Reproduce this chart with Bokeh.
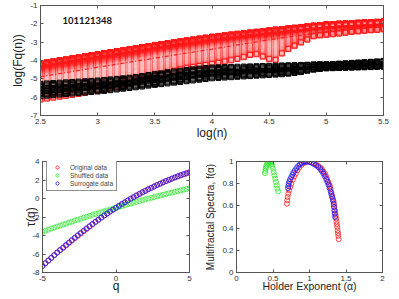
from bokeh.plotting import figure
from bokeh.layouts import column, row
from bokeh.models import (Range1d, FixedTicker, Label, LinearAxis, Legend, LegendItem,
                          CustomJSTickFormatter, ColumnDataSource)
from bokeh.embed import file_html
from bokeh.resources import INLINE

# ---------------- data: top panel (log Fq(n) vs log n) ----------------
log_n = [2.5, 2.556, 2.611, 2.667, 2.722, 2.778, 2.833, 2.889, 2.944,
         3.0, 3.056, 3.111, 3.167, 3.222, 3.278, 3.333, 3.389, 3.444,
         3.5, 3.556, 3.611, 3.667, 3.722, 3.778, 3.833, 3.889, 3.944,
         4.0, 4.056, 4.111, 4.167, 4.222, 4.278, 4.333, 4.389, 4.444,
         4.5, 4.556, 4.611, 4.667, 4.722, 4.778, 4.833, 4.889, 4.944,
         5.0, 5.056, 5.111, 5.167, 5.222, 5.278, 5.333, 5.389, 5.444, 5.5]
# original data, q = +5 (top) and q = -5 (bottom)
red_top = [-4.15, -4.09, -4.04, -3.98, -3.93, -3.87, -3.82, -3.76, -3.71, -3.65,
           -3.59, -3.54, -3.48, -3.43, -3.37, -3.32, -3.26, -3.21, -3.15,
           -3.10, -3.05, -3.00, -2.95, -2.90, -2.85, -2.80, -2.75, -2.70,
           -2.66, -2.62, -2.58, -2.54, -2.51, -2.47, -2.43, -2.39, -2.35,
           -2.31, -2.28, -2.24, -2.21, -2.17, -2.14, -2.10, -2.07, -2.03,
           -2.01, -1.99, -1.98, -1.96, -1.94, -1.92, -1.91, -1.89, -1.87]
red_bottom = [-6.13, -6.08, -6.03, -5.98, -5.93, -5.88, -5.83, -5.77, -5.71, -5.65,
              -5.57, -5.49, -5.42, -5.34, -5.25, -5.15, -5.05, -4.95, -4.85,
              -4.76, -4.67, -4.58, -4.49, -4.42, -4.36, -4.30, -4.25, -4.20,
              -4.13, -4.06, -3.99, -3.92, -3.82, -3.70, -3.66, -3.79, -3.93,
              -3.98, -3.62, -3.38, -3.20, -3.02, -2.86, -2.68, -2.63, -2.60,
              -2.57, -2.53, -2.49, -2.44, -2.41, -2.38, -2.35, -2.33, -2.30]
# shuffled data band
black_top = [-5.27, -5.25, -5.23, -5.21, -5.19, -5.17, -5.15, -5.13, -5.11, -5.09,
             -5.06, -5.03, -5.00, -4.97, -4.94, -4.90, -4.85, -4.79, -4.73,
             -4.70, -4.64, -4.60, -4.56, -4.52, -4.48, -4.44, -4.41, -4.38,
             -4.37, -4.36, -4.35, -4.34, -4.33, -4.32, -4.31, -4.30, -4.29,
             -4.28, -4.27, -4.26, -4.25, -4.24, -4.23, -4.21, -4.20, -4.20,
             -4.19, -4.17, -4.15, -4.13, -4.11, -4.09, -4.07, -4.05, -4.02]
black_bottom = [-5.95, -5.92, -5.89, -5.86, -5.83, -5.80, -5.78, -5.75, -5.72, -5.69,
                -5.66, -5.62, -5.58, -5.54, -5.50, -5.46, -5.42, -5.37, -5.33,
                -5.29, -5.25, -5.21, -5.17, -5.13, -5.09, -5.05, -5.01, -4.97,
                -4.95, -4.93, -4.91, -4.89, -4.87, -4.85, -4.83, -4.81, -4.79,
                -4.77, -4.75, -4.72, -4.68, -4.63, -4.56, -4.50, -4.46, -4.43,
                -4.42, -4.41, -4.40, -4.39, -4.38, -4.37, -4.36, -4.35, -4.34]
q_red = [-5, -4.75, -4.5, -4.25, -4, -3.75, -3.5, -3.25, -3, -2.75, -2.5, -2.25, -2,
         -1.75, -1.5, -1.25, -1, -0.75, -0.5, -0.25, 0, 0.25, 0.5, 0.75, 1, 1.25,
         1.5, 1.75, 2, 2.25, 2.5, 2.75, 3, 3.25, 3.5, 3.75, 4, 4.25, 4.5, 4.75, 5]
red_weight = [0.0, 0.02, 0.045, 0.07, 0.095, 0.12, 0.15, 0.18, 0.21, 0.245, 0.28,
              0.315, 0.35, 0.39, 0.43, 0.47, 0.51, 0.55, 0.59, 0.63, 0.665, 0.70,
              0.73, 0.76, 0.785, 0.81, 0.83, 0.85, 0.87, 0.885, 0.90, 0.915, 0.93,
              0.942, 0.954, 0.965, 0.975, 0.983, 0.99, 0.995, 1.0]
q_black = [-5, -4, -3, -2, -1, 0, 1, 2, 3, 4, 5]
black_weight = [0.0, 0.08, 0.16, 0.26, 0.38, 0.5, 0.62, 0.74, 0.84, 0.92, 1.0]
fit_log_n = [2.5, 3.0, 3.5, 4.0, 4.5, 5.0, 5.5]
fit_log_F = [-4.89, -4.37, -3.87, -3.38, -2.87, -2.42, -2.05]
top_x_ticks = [2.5, 3, 3.5, 4, 4.5, 5, 5.5]
top_y_ticks = [-7, -6, -5, -4, -3, -2, -1]

# ---------------- data: tau(q) ----------------
q_tau = [-5.0, -4.8, -4.6, -4.4, -4.2, -4.0, -3.8, -3.6, -3.4, -3.2,
         -3.0, -2.8, -2.6, -2.4, -2.2, -2.0, -1.8, -1.6, -1.4, -1.2,
         -1.0, -0.8, -0.6, -0.4, -0.2, 0.0, 0.2, 0.4, 0.6, 0.8,
         1.0, 1.2, 1.4, 1.6, 1.8, 2.0, 2.2, 2.4, 2.6, 2.8,
         3.0, 3.2, 3.4, 3.6, 3.8, 4.0, 4.2, 4.4, 4.6, 4.8, 5.0]
tau_original = [-7.28, -6.99, -6.70, -6.41, -6.12, -5.84, -5.58, -5.36, -5.09, -4.82,
                -4.56, -4.30, -4.04, -3.79, -3.54, -3.30, -3.05, -2.80, -2.54, -2.30,
                -2.06, -1.84, -1.63, -1.41, -1.21, -1.00, -0.80, -0.60, -0.41, -0.22,
                -0.03, 0.15, 0.33, 0.50, 0.67, 0.83, 1.00, 1.15, 1.31, 1.46,
                1.60, 1.74, 1.88, 2.01, 2.14, 2.26, 2.38, 2.49, 2.60, 2.70, 2.80]
tau_shuffled = [-3.60, -3.49, -3.37, -3.26, -3.15, -3.04, -2.93, -2.82, -2.71, -2.61,
                -2.50, -2.39, -2.29, -2.19, -2.08, -1.98, -1.88, -1.78, -1.68, -1.58,
                -1.48, -1.38, -1.29, -1.19, -1.09, -1.00, -0.91, -0.81, -0.72, -0.63,
                -0.54, -0.45, -0.36, -0.27, -0.19, -0.10, -0.01, 0.07, 0.15, 0.24,
                0.32, 0.40, 0.48, 0.56, 0.64, 0.72, 0.80, 0.87, 0.95, 1.03, 1.10]
tau_surrogate = [-7.30, -7.00, -6.71, -6.42, -6.13, -5.84, -5.57, -5.29, -5.02, -4.75,
                 -4.49, -4.23, -3.97, -3.72, -3.47, -3.23, -2.99, -2.75, -2.52, -2.29,
                 -2.06, -1.84, -1.63, -1.41, -1.21, -1.00, -0.80, -0.60, -0.41, -0.22,
                 -0.03, 0.15, 0.33, 0.50, 0.67, 0.83, 1.00, 1.15, 1.31, 1.46,
                 1.60, 1.75, 1.89, 2.02, 2.15, 2.28, 2.40, 2.52, 2.63, 2.74, 2.85]
tau_x_ticks = [-5, 0, 5]
tau_y_ticks = [-8, -6, -4, -2, 0, 2, 4]
legend_labels = ["Original data", "Shuffled data", "Surrogate data"]

# ---------------- data: multifractal spectra ----------------
alpha_original = [0.69, 0.695, 0.70, 0.71, 0.72, 0.735, 0.75, 0.77, 0.79, 0.81, 0.835, 0.86, 0.89, 0.92, 0.945,
                  0.97,
                  1.0, 1.03, 1.06, 1.09, 1.12, 1.15, 1.17, 1.19, 1.21, 1.225, 1.24, 1.255, 1.27, 1.28, 1.29,
                  1.30, 1.31, 1.32, 1.33, 1.335, 1.34, 1.35, 1.355, 1.36, 1.365, 1.37, 1.375, 1.38, 1.385,
                  1.39, 1.395, 1.40]
f_original = [0.62, 0.65, 0.68, 0.71, 0.74, 0.77, 0.80, 0.835, 0.865, 0.89, 0.92, 0.945, 0.97, 0.985, 0.995,
              1.0,
              0.998, 0.993, 0.985, 0.975, 0.96, 0.945, 0.93, 0.91, 0.89, 0.87, 0.845, 0.82, 0.795, 0.775, 0.75,
              0.72, 0.69, 0.665, 0.64, 0.615, 0.59, 0.56, 0.535, 0.51, 0.485, 0.46, 0.435, 0.41, 0.38,
              0.355, 0.33, 0.30]
alpha_shuffled = [0.39, 0.395, 0.40, 0.405, 0.41, 0.42, 0.43, 0.44, 0.45, 0.46, 0.47,
                  0.48, 0.49, 0.50, 0.51, 0.52, 0.53, 0.54, 0.55, 0.56, 0.57]
f_shuffled = [0.895, 0.915, 0.935, 0.95, 0.965, 0.98, 0.99, 0.997, 1.0, 0.998, 0.99,
              0.978, 0.96, 0.935, 0.905, 0.875, 0.845, 0.815, 0.785, 0.755, 0.73]
alpha_surrogate = [0.705, 0.71, 0.715, 0.725, 0.735, 0.75, 0.765, 0.78, 0.80, 0.82, 0.845, 0.87, 0.895, 0.92,
                   0.945,
                   0.97, 1.0, 1.03, 1.06, 1.09, 1.12, 1.15, 1.17, 1.19, 1.21, 1.23, 1.245, 1.26, 1.275,
                   1.29, 1.30, 1.31, 1.32, 1.33, 1.335, 1.34, 1.345, 1.35]
f_surrogate = [0.76, 0.78, 0.80, 0.82, 0.84, 0.86, 0.88, 0.90, 0.92, 0.94, 0.96, 0.975, 0.988, 0.996,
               1.0,
               0.999, 0.995, 0.988, 0.978, 0.965, 0.95, 0.93, 0.912, 0.89, 0.866, 0.84, 0.815, 0.79, 0.76,
               0.73, 0.705, 0.68, 0.65, 0.62, 0.59, 0.56, 0.53, 0.50]
fa_x_ticks = [0, 0.5, 1, 1.5, 2]
fa_y_ticks = [0, 0.2, 0.4, 0.6, 0.8, 1]

# ---------------- styling ----------------
FONT = "Liberation Sans"
AX = "#555555"
RED = "#ff1a1a"
GREEN = "#2ee82e"
BLUE = "#1a1aff"
fmt = CustomJSTickFormatter(code="return String(tick);")
blank = CustomJSTickFormatter(code="return '';")


def make_fig(w, h, xr, yr, mbl, mbr, mbt, mbb):
    p = figure(width=w, height=h, x_range=Range1d(*xr), y_range=Range1d(*yr),
               output_backend="svg", toolbar_location=None,
               min_border_left=mbl, min_border_right=mbr,
               min_border_top=mbt, min_border_bottom=mbb)
    p.xgrid.visible = False
    p.ygrid.visible = False
    p.outline_line_color = AX
    p.outline_line_width = 1
    return p


def style_axes(p, xt, yt, xlabel, ylabel, xsize, ysize, xstand, ystand):
    p.add_layout(LinearAxis(), "above")
    p.add_layout(LinearAxis(), "right")
    for ax in p.xaxis:
        ax.ticker = FixedTicker(ticks=xt)
    for ax in p.yaxis:
        ax.ticker = FixedTicker(ticks=yt)
    for ax in list(p.xaxis) + list(p.yaxis):
        ax.formatter = fmt
        ax.major_tick_in = 3
        ax.major_tick_out = 0
        ax.minor_tick_line_color = None
        ax.axis_line_color = AX
        ax.major_tick_line_color = AX
        ax.major_label_text_font = FONT
        ax.major_label_text_font_size = "8px"
        ax.major_label_text_color = "#333333"
        ax.major_label_standoff = 3
        ax.axis_label_text_font = FONT
        ax.axis_label_text_font_style = "normal"
        ax.axis_label_text_color = "#222222"
    for ax in list(p.above) + list(p.right):
        ax.formatter = blank
        ax.major_label_standoff = 0
    xa = p.below[0]
    ya = p.left[0]
    xa.axis_label = xlabel
    xa.axis_label_text_font_size = xsize
    xa.axis_label_standoff = xstand
    ya.axis_label = ylabel
    ya.axis_label_text_font_size = ysize
    ya.axis_label_standoff = ystand


# ---------------- top panel ----------------
p1 = make_fig(391, 142, (2.5, 5.5), (-7, -1), 40, 8, 5, 25)
style_axes(p1, top_x_ticks, top_y_ticks, "log(n)", "log(Fq(n))", "12px", "12px", -1, 2)

red_alpha = ([1.0, 0.6, 0.4] + [0.2] * 18 +
             [0.25, 0.3, 0.35, 0.4, 0.45, 0.5, 0.55, 0.6, 0.65, 0.7, 0.75, 0.8, 0.85, 0.9, 0.95] +
             [1.0] * 5)
order = sorted(range(len(q_red)), key=lambda i: red_alpha[i])
rx, ry, ra = [], [], []
for i in order:
    w = red_weight[i]
    for x, b, t in zip(log_n, red_bottom, red_top):
        rx.append(x)
        ry.append(b + w * (t - b))
        ra.append(red_alpha[i])
p1.scatter(x="x", y="y", source=ColumnDataSource(dict(x=rx, y=ry, a=ra)),
           marker="square", size=5, fill_color=None, line_color=RED,
           line_alpha="a", line_width=1)
p1.line(fit_log_n, fit_log_F, line_color=RED, line_width=1.2, line_dash="4 2 1 2")

bx, by = [], []
for w in black_weight:
    for x, b, t in zip(log_n, black_bottom, black_top):
        bx.append(x)
        by.append(b + w * (t - b))
p1.scatter(bx, by, marker="square", size=5, fill_color=None, line_color="black",
           line_width=1)

p1.add_layout(Label(x=2.692, y=-1.80, text="101121348", text_font="Lato",
                    text_font_style="bold", text_font_size="9.5px",
                    text_align="left", text_baseline="middle", text_color="#111111"))

# ---------------- bottom-left: tau(q) ----------------
p2 = make_fig(195, 155, (-5, 5), (-8, 4), 42, 6, 19, 25)
style_axes(p2, tau_x_ticks, tau_y_ticks, "q", "τ(q)", "12px", "12px", -5, -9)
r_o = p2.scatter(q_tau, tau_original, marker="circle", size=5, fill_color=None,
                 line_color=RED, line_width=0.8)
r_s = p2.scatter(q_tau, tau_shuffled, marker="circle", size=5, fill_color=None,
                 line_color=GREEN, line_width=0.8)
r_u = p2.scatter(q_tau, tau_surrogate, marker="circle", size=5, fill_color=None,
                 line_color=BLUE, line_width=0.8)
leg = Legend(items=[LegendItem(label=legend_labels[0], renderers=[r_o]),
                    LegendItem(label=legend_labels[1], renderers=[r_s]),
                    LegendItem(label=legend_labels[2], renderers=[r_u])],
             location=(4, 81), label_text_font=FONT, label_text_font_size="6.5px",
             label_height=8, glyph_height=8, glyph_width=14, label_standoff=6,
             spacing=0, padding=3, margin=0, border_line_color="#222222",
             border_line_width=0.8, background_fill_alpha=1.0)
p2.add_layout(leg)

# ---------------- bottom-right: f(alpha) ----------------
p3 = make_fig(195, 155, (0, 2), (0, 1), 41, 8, 19, 25)
style_axes(p3, fa_x_ticks, fa_y_ticks, "Holder Exponent (α)", "Multifractal Spectra, f(α)",
           "10.5px", "10px", -4, 3)
p3.scatter(alpha_original, f_original, marker="circle", size=5, fill_color=None,
           line_color=RED, line_width=0.8)
p3.scatter(alpha_shuffled, f_shuffled, marker="circle", size=5, fill_color=None,
           line_color=GREEN, line_width=0.8)
p3.scatter(alpha_surrogate, f_surrogate, marker="circle", size=5, fill_color=None,
           line_color=BLUE, line_width=0.8)

layout = column(p1, row(p2, p3, spacing=0), spacing=0)
open("out.html", "w").write(file_html(layout, INLINE))
